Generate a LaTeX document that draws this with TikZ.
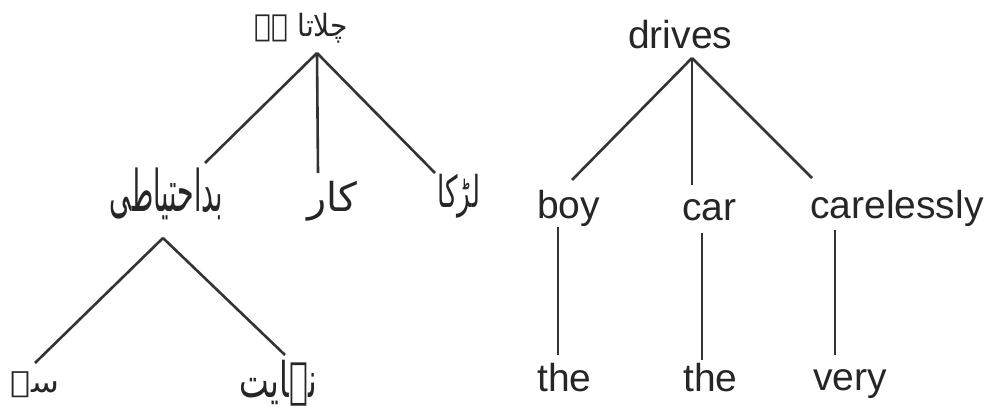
\documentclass[tikz,border=0pt]{standalone}
\usepackage{fontspec}
\setmainfont{Liberation Sans}
\newfontfamily\urdufont[Script=Arabic]{DejaVu Sans}
\TeXXeTstate=1
\begin{document}
\begin{tikzpicture}[x=1pt,y=-1pt,
  en/.style={inner sep=0pt, anchor=base west, text=black!85, font=\fontsize{39}{44}\selectfont},
  ur/.style={inner sep=0pt, anchor=center, text=black!85},
  ln/.style={line width=2.6pt, draw=black!80}]
\useasboundingbox[fill=white] (0,0) rectangle (989,410);
% English tree
\node[en] (drives) at (628,48) {drives};
\node[en] (boy) at (537,218) {boy};
\node[en] (car) at (682,220) {car};
\node[en] (careless) at (810,218) {carelessly};
\node[en] (theA) at (537,391) {the};
\node[en] (theB) at (683,391) {the};
\node[en] (very) at (813,390) {very};
\coordinate (hubE) at ([shift={(64,10)}]drives.base west);
\draw[ln] (hubE) -- ([shift={(35,-38)}]boy.base west);
\draw[ln] (hubE) -- ([shift={(10,-35)}]car.base west);
\draw[ln] (hubE) -- ([shift={(2,-40)}]careless.base west);
\draw[ln] ([shift={(21,9)}]boy.base west) -- ([shift={(21,-36)}]theA.base west);
\draw[ln] ([shift={(20,13)}]car.base west) -- ([shift={(19,-31)}]theB.base west);
\draw[ln] ([shift={(25,12)}]careless.base west) -- ([shift={(22,-35)}]very.base west);
% Urdu tree
\node[ur] (u0) at (301.5,28) {\resizebox*{93pt}{30pt}{\urdufont\beginR چلاتا ہے\endR}};
\node[ur] (u1) at (166.5,194) {\resizebox*{113pt}{52pt}{\urdufont\beginR بداحتیاطی\endR}};
\node[ur] (u2) at (332,201) {\resizebox*{50pt}{40pt}{\urdufont\beginR کار\endR}};
\node[ur] (u3) at (458.5,196) {\resizebox*{43pt}{44pt}{\urdufont\beginR لڑکا\endR}};
\node[ur] (u4) at (35,385) {\resizebox*{48pt}{26pt}{\urdufont\beginR سے\endR}};
\node[ur] (u5) at (278.5,383) {\resizebox*{77pt}{46pt}{\urdufont\beginR نہایت\endR}};
\coordinate (hubU) at ([shift={(15.5,25)}]u0.center);
\draw[ln] (hubU) -- ([shift={(38.5,-31)}]u1.center);
\draw[ln] (hubU) -- ([shift={(-14,-28)}]u2.center);
\draw[ln] (hubU) -- ([shift={(-23.5,-23)}]u3.center);
\coordinate (hubU2) at ([shift={(-3.5,44)}]u1.center);
\draw[ln] (hubU2) -- ([shift={(0,-22)}]u4.center);
\draw[ln] (hubU2) -- ([shift={(6.5,-28)}]u5.center);
\end{tikzpicture}
\end{document}
